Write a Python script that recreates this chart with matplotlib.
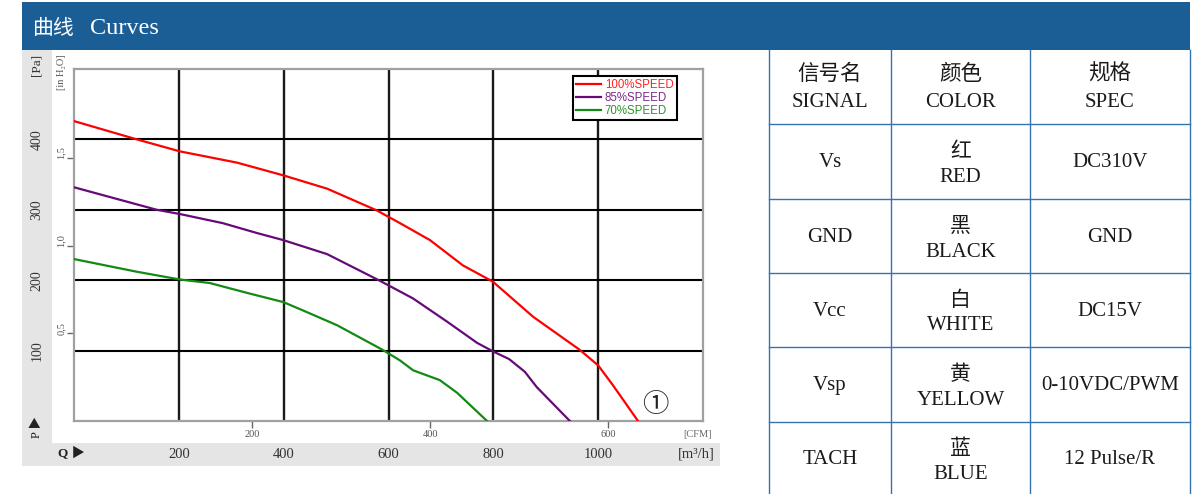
import matplotlib
matplotlib.use("Agg")
import matplotlib.pyplot as plt
from matplotlib.patches import Rectangle
from matplotlib.lines import Line2D
from matplotlib.transforms import blended_transform_factory, offset_copy

# ---------------- data ----------------
q_red = [0, 120, 202, 311, 399, 483, 578, 622, 679, 742, 799, 876, 965, 1000, 1028, 1076]
p_red = [426, 400, 383, 367, 349, 330, 299, 281, 257, 221, 198, 148, 101, 79, 51, 0]

q_purple = [0, 158, 202, 284, 349, 399, 483, 584, 647, 712, 769, 799, 830, 860, 883, 946]
p_purple = [332, 300, 294, 281, 267, 257, 237, 199, 174, 141, 111, 99, 88, 70, 48, 0]

q_green = [0, 120, 202, 259, 330, 399, 437, 502, 589, 622, 647, 698, 731, 788]
p_green = [230, 212, 201, 196, 182, 169, 157, 136, 101, 86, 72, 58, 40, 0]

series_labels = ["100%SPEED", "85%SPEED", "70%SPEED"]

q_ticks = [200, 400, 600, 800, 1000]          # m3/h
p_ticks = [100, 200, 300, 400]                # Pa
cfm_ticks = [200, 400, 600]                   # CFM
inh2o_ticks = [0.5, 1.0, 1.5]
inh2o_labels = ["0,5", "1,0", "1,5"]

header_cn = ["信号名", "颜色", "规格"]
header_en = ["SIGNAL", "COLOR", "SPEC"]
signals = ["Vs", "GND", "Vcc", "Vsp", "TACH"]
colors_cn = ["红", "黑", "白", "黄", "蓝"]
colors_en = ["RED", "BLACK", "WHITE", "YELLOW", "BLUE"]
specs = ["DC310V", "GND", "DC15V", "0-10VDC/PWM", "12 Pulse/R"]

# ---------------- layout helpers ----------------
W, H = 1203, 494
def fx(x): return x / W
def fy(y): return 1 - y / H

SERIF = ["Liberation Serif", "Noto Sans CJK SC", "DejaVu Sans"]
CJK = ["Noto Sans CJK SC", "DejaVu Sans"]
HEADER_BLUE = "#1b5e96"
GRAY_BG = "#e5e5e5"
TABLE_LINE = "#3472b2"

fig = plt.figure(figsize=(W / 100, H / 100), dpi=100)
fig.patch.set_facecolor("white")

# header bar
fig.patches.append(Rectangle((fx(22), fy(50)), fx(1190) - fx(22), 48 / H,
                             transform=fig.transFigure, facecolor=HEADER_BLUE,
                             edgecolor="none", zorder=0))
fig.text(fx(33), fy(28), "曲线", color="white", fontsize=15, family=CJK, va="center", ha="left")
fig.text(fx(90), fy(28), "Curves", color="white", fontsize=17.5, family=SERIF, va="center", ha="left")

# gray strips of the chart panel
fig.patches.append(Rectangle((fx(22), fy(466)), 30 / W, (466 - 50) / H,
                             transform=fig.transFigure, facecolor=GRAY_BG, edgecolor="none", zorder=0))
fig.patches.append(Rectangle((fx(22), fy(466)), (720 - 22) / W, (466 - 443) / H,
                             transform=fig.transFigure, facecolor=GRAY_BG, edgecolor="none", zorder=0))

# ---------------- chart ----------------
ax = fig.add_axes([fx(74), fy(421), (703 - 74) / W, (421 - 69) / H])
ax.set_xlim(0, 1200)
ax.set_ylim(0, 500)
ax.set_facecolor("white")

for q in q_ticks:
    ax.axvline(q, color="#1a1a1a", lw=1.7, zorder=1)
for p in p_ticks:
    ax.axhline(p, color="black", lw=1.5, zorder=1)

l1, = ax.plot(q_red, p_red, color="#ff0000", lw=1.6, zorder=3, solid_joinstyle="round")
l2, = ax.plot(q_purple, p_purple, color="#660a78", lw=1.6, zorder=3, solid_joinstyle="round")
l3, = ax.plot(q_green, p_green, color="#138a13", lw=1.6, zorder=3, solid_joinstyle="round")

for s in ax.spines.values():
    s.set_color("#a0a0a0")
    s.set_linewidth(1.6)

# CFM secondary scale on bottom axis
CFM_TO_M3H = 1.699
ax.set_xticks([c * CFM_TO_M3H for c in cfm_ticks])
ax.set_xticklabels([str(c) for c in cfm_ticks], fontsize=7.5, family=SERIF, color="#555555")
ax.tick_params(axis="x", direction="out", length=5, width=1, color="#666666", pad=1.5)

# in H2O scale on left axis
PA_PER_INH2O = 249.089
ax.set_yticks([v * PA_PER_INH2O for v in inh2o_ticks])
ax.set_yticklabels(inh2o_labels, fontsize=7.5, family=SERIF, color="#555555",
                   rotation=90, va="center")
ax.tick_params(axis="y", direction="out", length=5, width=1, color="#666666", pad=1)
for lab in ax.get_yticklabels():
    lab.set_transform(offset_copy(lab.get_transform(), fig=fig, x=0, y=5, units="dots"))

leg = ax.legend([l1, l2, l3], series_labels, loc="upper right", bbox_to_anchor=(0.958, 0.981),
                borderaxespad=0, frameon=True, fancybox=False, framealpha=1,
                edgecolor="black", handlelength=2.2, handletextpad=0.35,
                borderpad=0.25, labelspacing=0.1,
                prop={"family": ["Liberation Sans"], "size": 8.3},
                labelcolor=["#ff2020", "#7a2a8a", "#2a952a"])
leg.get_frame().set_linewidth(1.5)
leg.set_zorder(5)

fig.text(fx(655), fy(404), "①", fontsize=19, family=CJK, ha="center", va="center", color="#222222")

# Pa labels on the left gray strip
tr_pa = blended_transform_factory(fig.transFigure, ax.transData)
for p in p_ticks:
    fig.text(fx(37), p, str(p), transform=tr_pa, rotation=90, ha="center", va="center",
             fontsize=10, family=SERIF, color="#333333")
fig.text(fx(37), fy(65), "[Pa]", rotation=90, ha="center", va="center",
         fontsize=9.5, family=SERIF, color="#333333")
fig.text(fx(61), fy(72), "[in H₂O]", rotation=90, ha="center", va="center",
         fontsize=7.5, family=SERIF, color="#555555")
fig.text(fx(37), fy(427), "P ▶", rotation=90, ha="center", va="center",
         fontsize=9, family=SERIF, color="#222222")

# m3/h labels on the bottom gray strip
tr_q = blended_transform_factory(ax.transData, fig.transFigure)
for q in q_ticks:
    fig.text(q, fy(454), str(q), transform=tr_q, ha="center", va="center",
             fontsize=10.5, family=SERIF, color="#333333")
fig.text(fx(71), fy(454), "Q ▶", ha="center", va="center", fontsize=9.5, family=SERIF,
         color="#222222", weight="bold")
fig.text(fx(715), fy(454), "[m³/h]", ha="right", va="center", fontsize=10.5, family=SERIF, color="#333333")
fig.text(fx(712), fy(434), "[CFM]", ha="right", va="center", fontsize=7.5, family=SERIF, color="#666666")

# ---------------- table ----------------
col_x = [769, 891, 1030, 1190]
row_y = [50, 124, 199, 273, 347, 422, 494]
for x in col_x:
    fig.add_artist(Line2D([fx(x), fx(x)], [fy(50), fy(494)], transform=fig.transFigure,
                          color=TABLE_LINE, lw=1.0))
for y in row_y[1:-1]:
    fig.add_artist(Line2D([fx(769), fx(1190)], [fy(y), fy(y)], transform=fig.transFigure,
                          color=TABLE_LINE, lw=1.0))

centers = [(col_x[i] + col_x[i + 1]) / 2 for i in range(3)]
TXT = "#1a1a1a"
for i in range(3):
    fig.text(fx(centers[i]), fy(74), header_cn[i], ha="center", va="center",
             fontsize=15.5, family=CJK, color=TXT)
    fig.text(fx(centers[i]), fy(102), header_en[i], ha="center", va="center",
             fontsize=15, family=SERIF, color=TXT)

for r in range(5):
    cy = (row_y[r + 1] + row_y[r + 2]) / 2 + 1
    fig.text(fx(centers[0]), fy(cy), signals[r], ha="center", va="center",
             fontsize=15, family=SERIF, color=TXT)
    fig.text(fx(centers[1]), fy(cy - 11), colors_cn[r], ha="center", va="center",
             fontsize=15, family=CJK, color=TXT)
    fig.text(fx(centers[1]), fy(cy + 15), colors_en[r], ha="center", va="center",
             fontsize=15, family=SERIF, color=TXT)
    fig.text(fx(centers[2]), fy(cy), specs[r], ha="center", va="center",
             fontsize=15, family=SERIF, color=TXT)

fig.savefig("out.png", dpi=100)
